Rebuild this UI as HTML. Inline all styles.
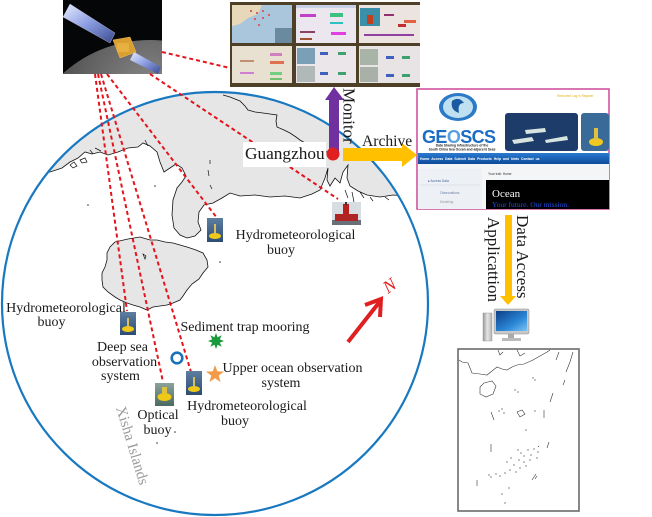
<!DOCTYPE html>
<html><head><meta charset="utf-8"><style>
html,body{margin:0;padding:0;background:#fff;}
svg{display:block;}
.t{font-family:"Liberation Serif",serif;fill:#1a1a1a;}
.w{font-family:"Liberation Sans",sans-serif;}
</style></head><body>
<svg width="652" height="517" viewBox="0 0 652 517" xmlns="http://www.w3.org/2000/svg">
<defs>
<clipPath id="cc"><ellipse cx="215" cy="303.5" rx="213" ry="211.5"/></clipPath>
<linearGradient id="sea" x1="0" y1="0" x2="0" y2="1"><stop offset="0" stop-color="#5d7ea0"/><stop offset="1" stop-color="#2c4c74"/></linearGradient>
<linearGradient id="sea2" x1="0" y1="0" x2="0" y2="1"><stop offset="0" stop-color="#8aa29a"/><stop offset="1" stop-color="#4a6a62"/></linearGradient>
<linearGradient id="panel" x1="0" y1="0" x2="1" y2="1"><stop offset="0" stop-color="#e8ecff"/><stop offset="0.5" stop-color="#8a9ce0"/><stop offset="1" stop-color="#3a4a90"/></linearGradient>
<linearGradient id="scr" x1="0" y1="0" x2="1" y2="1"><stop offset="0" stop-color="#0d3e86"/><stop offset="0.6" stop-color="#2a86d6"/><stop offset="1" stop-color="#7cc4f4"/></linearGradient>
<linearGradient id="nav" x1="0" y1="0" x2="0" y2="1"><stop offset="0" stop-color="#2a7ad0"/><stop offset="1" stop-color="#0e4c9a"/></linearGradient>
<linearGradient id="tower" x1="0" y1="0" x2="1" y2="0"><stop offset="0" stop-color="#9a9a9a"/><stop offset="0.5" stop-color="#e6e6e6"/><stop offset="1" stop-color="#b0b0b0"/></linearGradient>
<radialGradient id="planet" cx="0.5" cy="0.2" r="0.6"><stop offset="0" stop-color="#8a8a8a"/><stop offset="1" stop-color="#2a2a2a"/></radialGradient>
</defs>

<!-- land inside circle -->
<g clip-path="url(#cc)">
<path d="M0,0 L440,0 L440,196 L420,195 L405,196 L393,195 L380,197 L367,195 L358,191 L350,186 L347,178 L348,165 L343,172 L340,183 L335,178 L330,186 L327,180 L328,168 L325,178 L320,190 L312,194 L300,198 L285,196 L270,197 L255,195 L240,196 L230,193 L222,198 L213,203 L204,205 L199,212 L198,222 L201,230 L195,236 L187,238 L180,235 L174,228 L172,215 L173,200 L177,188 L182,182 L186,176 L182,168 L176,164 L170,168 L164,172 L160,162 L157,152 L150,146 L143,143 L138,147 L128,148 L118,152 L108,155 L100,152 L92,154 L85,152 L78,158 L70,162 L62,168 L50,172 L0,175 Z" fill="#e6e6e6" stroke="#111" stroke-width="0.8"/>
<path d="M115,242 L128,239 L140,237 L150,240 L157,240 L165,242 L173,243 L180,245 L187,247 L196,250 L203,253 L207,260 L208,267 L203,273 L199,279 L192,284 L187,290 L183,296 L180,300 L173,303 L167,305 L160,306 L153,307 L147,310 L140,307 L133,305 L127,303 L120,300 L115,297 L108,292 L103,287 L102,280 L102,273 L105,267 L107,260 L107,253 L110,247 Z" fill="#e6e6e6" stroke="#111" stroke-width="0.8"/>
<polyline points="223,95 230,97 235,99 240,101 245,106 248,110 255,112 263,113 270,114 277,115 276,121 277,127 284,130 290,133 296,137 300,140 305,143 310,147 318,150 327,152 330,156" fill="none" stroke="#111" stroke-width="0.8"/>
<g fill="none" stroke="#111" stroke-width="0.7">
<path d="M70,165 l4,-3 3,4 -4,2z M80,160 l5,-2 2,4 -5,1z M90,150 l3,4 M95,148 l6,3 M145,140 l3,6 M210,185 l2,4 M208,170 l1,6 M345,190 l3,8 M352,192 l2,10 M360,192 l4,6 M370,197 l3,4 M385,197 l4,3 M210,160 l0,4 M143,254 l3,2 -1,3z"/>
</g>
<g fill="#333"><circle cx="88" cy="205" r="0.8"/><circle cx="155" cy="186" r="0.8"/><circle cx="220" cy="262" r="0.8"/><circle cx="175" cy="432" r="0.8"/><circle cx="157" cy="443" r="0.8"/><circle cx="410" cy="210" r="0.8"/></g>
</g>
<ellipse cx="215" cy="303.5" rx="213" ry="211.5" fill="none" stroke="#1878c0" stroke-width="2.2"/>

<!-- satellite -->
<rect x="63" y="0" width="99" height="74" fill="#050608"/>
<g>
<clipPath id="sc"><rect x="63" y="0" width="99" height="74"/></clipPath>
<circle cx="150" cy="170" r="130" fill="url(#planet)" clip-path="url(#sc)"/>
<path d="M70,4 L115,33 L110,43 L63,17 Z" fill="url(#panel)" stroke="#ccd" stroke-width="0.4"/>
<path d="M134,52 L161,67 L158,74 L130,60 Z" fill="url(#panel)"/>
<path d="M113,40 L130,37 L136,52 L120,58 Z" fill="#d9a030" stroke="#f0c060" stroke-width="0.5"/>
<rect x="117" y="43" width="12" height="9" fill="#e8b040"/>
</g>

<!-- dashed satellite links -->
<g stroke="#e5141c" stroke-width="2" stroke-dasharray="4,3" fill="none">
<line x1="162" y1="52" x2="230" y2="68"/>
<line x1="150" y1="74" x2="338" y2="199"/>
<line x1="95" y1="74" x2="127" y2="311"/>
<line x1="98" y1="74" x2="163" y2="382"/>
<line x1="101" y1="74" x2="191" y2="372"/>
<line x1="107" y1="74" x2="217" y2="218"/>
</g>

<!-- monitor wall -->
<rect x="230" y="2" width="190" height="85" fill="#4e4026"/>
<rect x="232" y="5" width="60" height="38" fill="#a9c6dc"/>
<path d="M232,5 L262,5 L258,14 L248,18 L240,24 L232,26 Z" fill="#e6d8b8"/>
<g fill="#d86060"><rect x="250" y="10" width="2" height="2"/><rect x="256" y="12" width="2" height="2"/><rect x="262" y="10" width="2" height="2"/><rect x="254" y="18" width="2" height="2"/><rect x="262" y="17" width="2" height="2"/><rect x="268" y="14" width="2" height="2"/><rect x="258" y="24" width="2" height="2"/></g>
<rect x="275" y="28" width="17" height="15" fill="#6a8aa0"/>
<rect x="296" y="5" width="60" height="38" fill="#ece6ee"/>
<rect x="296" y="5" width="60" height="3" fill="#c8d0e8"/>
<rect x="300" y="14" width="16" height="3" fill="#c040c8"/><rect x="330" y="13" width="13" height="4" fill="#40c080"/><rect x="330" y="22" width="13" height="2" fill="#30c0c0"/><rect x="300" y="31" width="15" height="2" fill="#8a4060"/><rect x="331" y="32" width="15" height="3" fill="#e040e0"/><rect x="300" y="38" width="12" height="2" fill="#a05030"/>
<rect x="359" y="5" width="61" height="38" fill="#ece4e0"/>
<rect x="360" y="8" width="20" height="18" fill="#3a90a8"/><rect x="367" y="15" width="6" height="9" fill="#c04020"/>
<rect x="384" y="14" width="10" height="2" fill="#903070"/><rect x="398" y="24" width="8" height="3" fill="#c03030"/><rect x="404" y="20" width="12" height="3" fill="#e06040"/><rect x="364" y="34" width="50" height="2" fill="#9040a0"/>
<rect x="232" y="46" width="60" height="37" fill="#e8e0d0"/>
<rect x="270" y="53" width="12" height="3" fill="#d080c0"/><rect x="270" y="61" width="14" height="3" fill="#e07050"/><rect x="240" y="60" width="14" height="2" fill="#c09070"/><rect x="240" y="72" width="14" height="2" fill="#d080d0"/><rect x="270" y="72" width="12" height="3" fill="#70d080"/><rect x="270" y="78" width="12" height="2" fill="#70c070"/>
<rect x="296" y="46" width="60" height="37" fill="#eae6ea"/>
<rect x="297" y="48" width="18" height="16" fill="#7aa0b8"/><rect x="297" y="66" width="18" height="16" fill="#b0b8b8"/>
<rect x="320" y="52" width="8" height="3" fill="#4060c0"/><rect x="338" y="52" width="8" height="3" fill="#40a070"/><rect x="320" y="72" width="8" height="3" fill="#4060c0"/><rect x="338" y="72" width="8" height="3" fill="#40a070"/>
<rect x="359" y="46" width="61" height="37" fill="#e8e4e6"/>
<rect x="360" y="49" width="18" height="16" fill="#a8b4a8"/><rect x="360" y="67" width="18" height="15" fill="#a8b0a8"/>
<rect x="386" y="56" width="8" height="3" fill="#4060c0"/><rect x="402" y="56" width="8" height="3" fill="#40a070"/><rect x="386" y="74" width="8" height="3" fill="#4060c0"/><rect x="402" y="74" width="8" height="3" fill="#40a070"/>

<!-- website -->
<rect x="417" y="89" width="192" height="120" fill="#fff" stroke="#d055a0" stroke-width="1.6"/>
<ellipse cx="458" cy="107" rx="19" ry="14" fill="#2a7ac8"/><ellipse cx="458" cy="107" rx="15" ry="11" fill="#bfe0f0"/><path d="M452,101 q7,-5 12,2 q-7,0 -5,10 q-9,-3 -7,-12z" fill="#1a5aa0"/>
<text x="422" y="143" class="w" font-size="18" font-weight="bold" fill="#1c6cc4" letter-spacing="-0.6">GE<tspan fill="#5aa0e0">O</tspan>SCS</text>
<text x="462" y="146.5" class="w" font-size="3.3" fill="#222" text-anchor="middle" font-weight="bold">Data Sharing Infrastructure of the</text>
<text x="462" y="150.5" class="w" font-size="3.3" fill="#222" text-anchor="middle" font-weight="bold">South China Sea Ocean and adjacent Seas</text>
<text x="557" y="97" class="w" font-size="3.2" fill="#e0b020">Welcome!   Log in   Register</text>
<rect x="505" y="113" width="73" height="38" rx="3" fill="#1e3c6a"/>
<path d="M512,140 l20,-3 2,4 -20,3z M525,130 l20,-2 1,4 -20,2z M545,140 l22,-4 1,4 -22,3z" fill="#d8e4e0"/>
<rect x="581" y="113" width="28" height="38" rx="3" fill="#3a6a98"/>
<ellipse cx="596" cy="142" rx="7" ry="4" fill="#f0c820"/><rect x="594" y="128" width="4" height="12" fill="#e0c040"/>
<rect x="418" y="153" width="191" height="11" fill="url(#nav)"/>
<text x="420" y="160" class="w" font-size="3.4" fill="#fff" font-weight="bold" word-spacing="1">Home   Access Data   Submit Data   Products   Help and hints   Contact us</text>
<rect x="418" y="164" width="191" height="45" fill="#f4f5f7"/>
<rect x="418" y="169" width="64" height="40" fill="#edf0f4"/>
<text x="428" y="182" class="w" font-size="3.3" fill="#4a6aa0">▸ Access Data</text>
<line x1="420" y1="185" x2="480" y2="185" stroke="#d0d8e0" stroke-width="0.5"/>
<text x="440" y="194" class="w" font-size="3.3" fill="#6a80a8">Observations</text>
<text x="440" y="203" class="w" font-size="3.3" fill="#999">Modeling</text>
<text x="488" y="175" class="w" font-size="3.3" fill="#333">Your trail:  Home</text>
<rect x="486" y="180" width="123" height="29" fill="#000"/>
<text x="492" y="197" class="t" font-size="11" style="fill:#fff">Ocean</text>
<text x="492" y="207" class="t" font-size="7.5" style="fill:#2050e0">Your future. Our mission.</text>

<!-- arrows -->
<rect x="329" y="99" width="10" height="54" fill="#7030a0"/>
<polygon points="325,100 334,87 344,100" fill="#7030a0"/>
<rect x="343" y="148" width="60" height="13" fill="#ffc000"/>
<polygon points="402,143 417,155 402,167" fill="#ffc000"/>
<rect x="505" y="215" width="7" height="82" fill="#ffc000"/>
<polygon points="500,296 516,296 508,305" fill="#ffc000"/>

<rect x="243" y="142" width="83" height="25" fill="#fff"/>
<text x="245" y="159" class="t" font-size="17.3">Guangzhou</text>
<circle cx="333" cy="154" r="6.5" fill="#e02020"/>
<text x="362" y="146" class="t" font-size="15.6">Archive</text>
<text transform="translate(343.5,88) rotate(90)" class="t" font-size="17">Monitor</text>
<text transform="translate(517,215) rotate(90)" class="t" font-size="17">Data Access</text>
<text transform="translate(488,217) rotate(90)" class="t" font-size="17">Applicattion</text>

<!-- computer -->
<rect x="483" y="313" width="9" height="28" fill="url(#tower)" stroke="#888" stroke-width="0.4"/>
<rect x="494" y="309" width="35" height="25" rx="1.5" fill="#c8c8c8" stroke="#888" stroke-width="0.5"/>
<rect x="496" y="311" width="31" height="20" fill="url(#scr)"/>
<rect x="508" y="334" width="6" height="4" fill="#aaa"/>
<rect x="502" y="338" width="19" height="3" fill="#bbb"/>

<!-- mini map -->
<rect x="458" y="349" width="121" height="162" fill="#fff" stroke="#6a6a6a" stroke-width="1.6"/>
<g fill="none" stroke="#333" stroke-width="0.6">
<path d="M459,360 L462,362 L468,363 L470,368 L472,373 L480,374 L487,375 L492,371 L497,367 L502,369 L507,370 L512,367 L517,365 L524,364 L533,360 L540,356 L547,352 L550,350"/>
<path d="M498,350 L500,355 L503,352 M517,350 L520,356 L525,353"/>
<path d="M484,383 L492,381 L496,386 L493,394 L486,397 L480,394 L480,387 Z"/>
<path d="M573,352 L570,362 L566,372 M559,352 L556,360 M565,380 L563,385"/>
<path d="M553,393 L550,402 M544,410 L544,418 M491,412 L494,420 M517,412 l5,-2 3,4 -5,3z M549,442 L547,448 M491,444 L491,452 M538,446 l1,1 M536,474 L532,480 M537,476 l-2,3 M477,480 L477,486"/>
</g>
<g fill="#333">
<circle cx="533" cy="378" r="0.6"/><circle cx="535" cy="380" r="0.6"/><circle cx="515" cy="390" r="0.6"/><circle cx="518" cy="392" r="0.6"/><circle cx="499" cy="411" r="0.6"/><circle cx="502" cy="409" r="0.6"/><circle cx="504" cy="413" r="0.6"/><circle cx="535" cy="411" r="0.6"/><circle cx="526" cy="430" r="0.6"/>
<circle cx="518" cy="450" r="0.6"/><circle cx="521" cy="453" r="0.6"/><circle cx="524" cy="456" r="0.6"/><circle cx="528" cy="450" r="0.6"/><circle cx="531" cy="455" r="0.6"/><circle cx="534" cy="449" r="0.6"/><circle cx="530" cy="460" r="0.6"/><circle cx="524" cy="462" r="0.6"/><circle cx="519" cy="460" r="0.6"/><circle cx="514" cy="465" r="0.6"/><circle cx="510" cy="470" r="0.6"/><circle cx="505" cy="473" r="0.6"/><circle cx="500" cy="476" r="0.6"/><circle cx="496" cy="474" r="0.6"/><circle cx="516" cy="472" r="0.6"/><circle cx="520" cy="468" r="0.6"/><circle cx="526" cy="466" r="0.6"/><circle cx="538" cy="452" r="0.6"/><circle cx="537" cy="458" r="0.6"/><circle cx="511" cy="458" r="0.6"/><circle cx="507" cy="462" r="0.6"/><circle cx="489" cy="475" r="0.6"/><circle cx="491" cy="477" r="0.6"/><circle cx="509" cy="488" r="0.6"/><circle cx="502" cy="494" r="0.6"/><circle cx="505" cy="503" r="0.6"/>
</g>

<!-- buoy thumbnails -->
<g>
<rect x="207" y="218" width="16" height="24" fill="url(#sea)"/><ellipse cx="215" cy="236" rx="6" ry="3" fill="#f0c818"/><rect x="214" y="224" width="2" height="10" fill="#d8c060"/>
<rect x="120" y="312" width="16" height="23" fill="url(#sea)"/><ellipse cx="128" cy="329" rx="6" ry="3" fill="#f0c818"/><rect x="127" y="318" width="2" height="9" fill="#d8c060"/>
<rect x="186" y="371" width="16" height="24" fill="url(#sea)"/><ellipse cx="194" cy="389" rx="6" ry="3" fill="#f0c818"/><rect x="193" y="377" width="2" height="10" fill="#d8c060"/>
<rect x="155" y="383" width="19" height="23" fill="url(#sea2)"/><ellipse cx="164.5" cy="397" rx="7" ry="4" fill="#f0c818"/><rect x="162" y="387" width="5" height="6" fill="#e0c040"/>
<rect x="332" y="202" width="29" height="23" fill="#d8dde2"/><rect x="332" y="220" width="29" height="5" fill="#6a7078"/>
<rect x="343" y="204" width="6" height="11" fill="#b82020"/><rect x="335" y="214" width="23" height="7" fill="#b02424"/><rect x="345" y="202" width="2" height="3" fill="#333"/>
</g>

<!-- markers -->
<circle cx="177" cy="358" r="5.3" fill="none" stroke="#1a72ba" stroke-width="2.6"/>
<polygon points="216,333 217.6,337.2 221.7,335.3 219.8,339.4 224,341 219.8,342.6 221.7,346.7 217.6,344.8 216,349 214.4,344.8 210.3,346.7 212.2,342.6 208,341 212.2,339.4 210.3,335.3 214.4,337.2" fill="#1a9a3c"/>
<polygon points="215,365 217.3,371.4 224,371.5 218.7,375.6 220.6,382 215,378.2 209.4,382 211.3,375.6 206,371.5 212.7,371.4" fill="#f29a48"/>

<!-- north arrow -->
<line x1="348" y1="342" x2="381" y2="300" stroke="#e02020" stroke-width="4"/>
<polyline points="365,305 381,299 380,317" fill="none" stroke="#e02020" stroke-width="4" stroke-linejoin="miter"/>
<text transform="translate(388,294) rotate(-35)" class="t" font-size="18" font-style="italic" style="fill:#e02020">N</text>

<!-- labels -->
<text x="295.5" y="239" class="t" font-size="14" text-anchor="middle">Hydrometeorological</text>
<text x="281" y="254" class="t" font-size="14" text-anchor="middle">buoy</text>
<text x="66" y="312" class="t" font-size="14" text-anchor="middle">Hydrometeorological</text>
<text x="51.5" y="326" class="t" font-size="14" text-anchor="middle">buoy</text>
<text x="122.5" y="351" class="t" font-size="14" text-anchor="middle">Deep sea</text>
<text x="124.5" y="366" class="t" font-size="14" text-anchor="middle">observation</text>
<text x="120.5" y="380" class="t" font-size="14" text-anchor="middle">system</text>
<text x="245" y="331" class="t" font-size="14" text-anchor="middle">Sediment trap mooring</text>
<text x="292.5" y="372" class="t" font-size="14" text-anchor="middle">Upper ocean observation</text>
<text x="281" y="387" class="t" font-size="14" text-anchor="middle">system</text>
<text x="158" y="419" class="t" font-size="14" text-anchor="middle">Optical</text>
<text x="157.5" y="434" class="t" font-size="14" text-anchor="middle">buoy</text>
<text x="247" y="410" class="t" font-size="14" text-anchor="middle">Hydrometeorological</text>
<text x="235" y="425" class="t" font-size="14" text-anchor="middle">buoy</text>
<text transform="translate(116,408) rotate(73)" class="t" font-size="15" style="fill:#9a9a9a">Xisha Islands</text>
</svg>
</body></html>
